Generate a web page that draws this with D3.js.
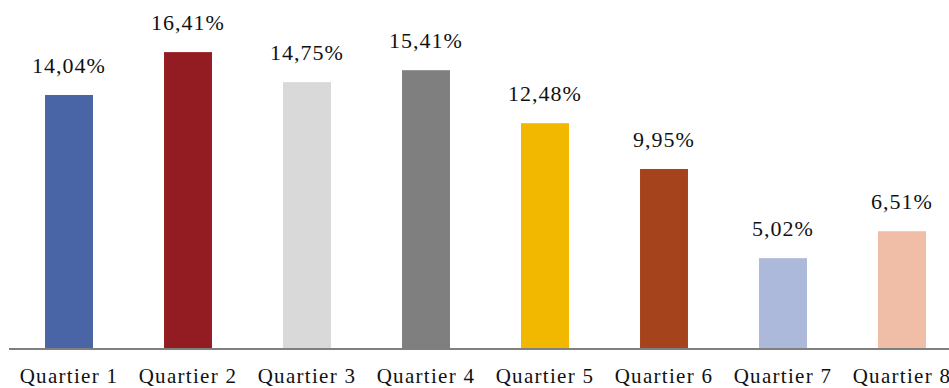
<!DOCTYPE html>
<html><head><meta charset="utf-8">
<script src="https://cdn.jsdelivr.net/npm/d3@7"></script>
<style>html,body{margin:0;padding:0;background:#fff;overflow:hidden}</style>
</head><body>
<svg id="c" width="949" height="388"></svg>
<script>
const categories = ["Quartier 1","Quartier 2","Quartier 3","Quartier 4","Quartier 5","Quartier 6","Quartier 7","Quartier 8"];
const values = [14.04, 16.41, 14.75, 15.41, 12.48, 9.95, 5.02, 6.51];
const colors = ["#4A65A5","#931C22","#D9D9D9","#7F7F7F","#F2B800","#A5441C","#ADB9DA","#F0BDA6"];

const svg = d3.select("#c");
const font = "'Liberation Serif', serif";
const x = d3.scaleBand().domain(categories).range([9.5, 961.5]).paddingInner(0.597).paddingOuter(0.2985);
const y = d3.scaleLinear().domain([0, 19.29]).range([349, 0]);

svg.selectAll("rect.bar").data(values).enter().append("rect")
  .attr("class","bar")
  .attr("x",(d,i)=>x(categories[i]))
  .attr("width",x.bandwidth())
  .attr("y",d=>y(d))
  .attr("height",d=>y(0)-y(d))
  .attr("fill",(d,i)=>colors[i]);

svg.selectAll("text.val").data(values).enter().append("text")
  .attr("class","val")
  .attr("x",(d,i)=>x(categories[i])+x.bandwidth()/2)
  .attr("y",d=>y(d)-22)
  .attr("text-anchor","middle")
  .style("font-family",font).style("font-size","22px").style("letter-spacing","1px").attr("fill","#111")
  .text(d=>d.toFixed(2).replace(".",",")+"%");

const axis = d3.axisBottom(x).tickSize(0).tickPadding(0);
const g = svg.append("g").attr("transform","translate(0,349)").call(axis);
g.select(".domain").attr("d","M9,0H949").attr("stroke","#7F7F7F").attr("stroke-width",2);
g.selectAll(".tick text").attr("dy",null).attr("y",34)
  .style("font-family",font).style("font-size","21px").style("letter-spacing","1.3px").attr("fill","#111");
</script>
</body></html>
